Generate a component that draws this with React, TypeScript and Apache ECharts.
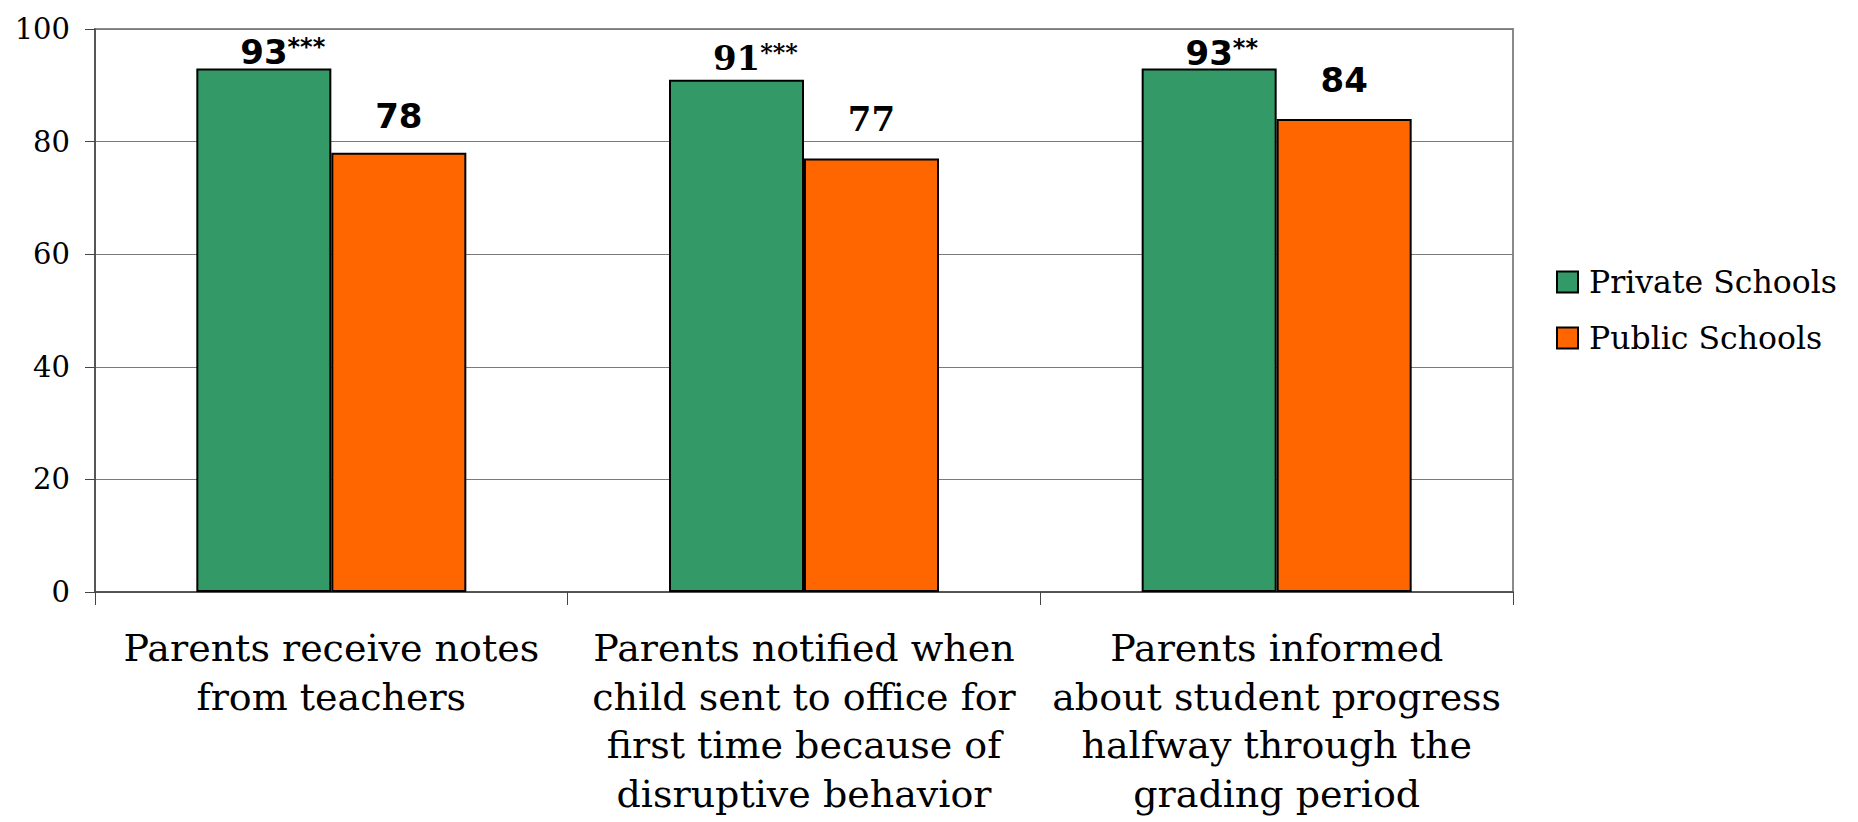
import React, { useEffect, useRef } from "react";
import * as echarts from "echarts";

const categories = [
  "Parents receive notes\nfrom teachers",
  "Parents notified when\nchild sent to office for\nfirst time because of\ndisruptive behavior",
  "Parents informed\nabout student progress\nhalfway through the\ngrading period",
];
const seriesNames = ["Private Schools", "Public Schools"];
const privateValues = [93, 91, 93];
const publicValues = [78, 77, 84];
const privateMarks = ["***", "***", "**"];
const yTicks = [0, 20, 40, 60, 80, 100];

const GREEN = "#339966";
const ORANGE = "#FF6600";
const SERIF = "DejaVu Serif";
const SANS = "DejaVu Sans";
const SLAB = "'DejaVu Serif', 'Liberation Serif', serif";

// the middle group's value labels are set in a bold slab-serif face
const labelFont = (i: number) => (i === 1 ? SLAB : SANS);
const privateDist = [-1, 5, -2];
const publicDist = [20, 22, 22];

export default function App() {
  const ref = useRef<HTMLDivElement>(null);

  useEffect(() => {
    if (!ref.current) return;
    const chart = echarts.init(ref.current, null, { renderer: "svg" });

    const privateData = privateValues.map((v, i) => ({
      value: v,
      label: {
        show: true,
        position: "top",
        distance: privateDist[i],
        offset: [privateMarks[i].length * 6.3, 0],
        fontFamily: labelFont(i),
        fontWeight: "bold",
        formatter: `{n|${v}}{s|${privateMarks[i]}}`,
        rich: {
          n: { fontFamily: labelFont(i), fontWeight: "bold", fontSize: 34, color: "#000", lineHeight: 34 },
          s: { fontFamily: labelFont(i), fontWeight: "bold", fontSize: 24, color: "#000", lineHeight: 24, verticalAlign: "top" },
        },
      },
    }));

    const publicData = publicValues.map((v, i) => ({
      value: v,
      label: {
        show: true,
        position: "top",
        distance: publicDist[i],
        fontFamily: labelFont(i),
        fontWeight: "bold",
        fontSize: 34,
        color: "#000",
        formatter: `${v}`,
      },
    }));

    chart.setOption({
      animation: false,
      backgroundColor: "#fff",
      grid: {
        left: 95,
        top: 29,
        right: 345,
        bottom: 230,
        show: true,
        borderColor: "#8a8a8a",
        borderWidth: 2,
        backgroundColor: "transparent",
      },
      legend: {
        orient: "vertical",
        left: 1551,
        top: 261,
        itemWidth: 21,
        itemHeight: 21,
        itemGap: 24,
        icon: "rect",
        data: seriesNames,
        textStyle: {
          fontFamily: SERIF,
          fontSize: 31.5,
          color: "#000",
          padding: [0, 0, 0, 6],
        },
      },
      xAxis: {
        type: "category",
        data: categories,
        axisLine: { show: true, lineStyle: { color: "#444", width: 1.5 } },
        axisTick: { show: true, length: 13, inside: false, lineStyle: { color: "#444", width: 1 } },
        axisLabel: {
          interval: 0,
          margin: 32,
          fontFamily: SERIF,
          fontSize: 38,
          lineHeight: 48.5,
          color: "#000",
          align: "center",
        },
        splitLine: { show: false },
      },
      yAxis: {
        type: "value",
        min: yTicks[0],
        max: yTicks[yTicks.length - 1],
        interval: yTicks[1] - yTicks[0],
        axisLine: { show: true, lineStyle: { color: "#444", width: 1.5 } },
        axisTick: { show: true, length: 10, lineStyle: { color: "#444" } },
        axisLabel: {
          margin: 25,
          fontFamily: SERIF,
          fontSize: 29,
          color: "#000",
        },
        splitLine: { show: true, lineStyle: { color: "#7a7a7a", width: 1 } },
      },
      series: [
        {
          name: seriesNames[0],
          type: "bar",
          data: privateData,
          barWidth: 135,
          barGap: "0%",
          itemStyle: { color: GREEN, borderColor: "#000", borderWidth: 2 },
        },
        {
          name: seriesNames[1],
          type: "bar",
          data: publicData,
          barWidth: 135,
          barGap: "0%",
          itemStyle: { color: ORANGE, borderColor: "#000", borderWidth: 2 },
        },
      ],
    });

    return () => chart.dispose();
  }, []);

  return (
    <div
      ref={ref}
      style={{ position: "fixed", left: 0, top: 0, width: 1858, height: 822, background: "#fff" }}
    />
  );
}
